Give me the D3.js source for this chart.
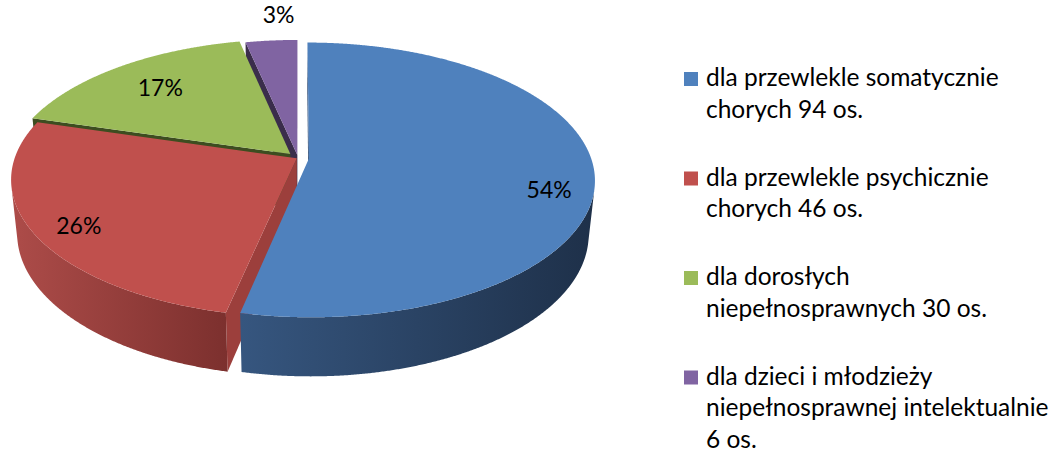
<!DOCTYPE html>
<html>
<head>
<meta charset="utf-8">
<script src="https://cdn.jsdelivr.net/npm/d3@7"></script>
<style>
  html, body { margin: 0; padding: 0; background: #fff; }
  svg { display: block; font-family: Lato, "Open Sans", sans-serif; }
</style>
</head>
<body>
<svg id="chart" width="1057" height="453"></svg>
<script>
// data
const values = [94, 46, 30, 6];
const pctLabels = ["54%", "26%", "17%", "3%"];
const legendLines = [
  ["dla przewlekle somatycznie", "chorych 94 os."],
  ["dla przewlekle psychicznie", "chorych 46 os."],
  ["dla dorosłych", "niepełnosprawnych 30 os."],
  ["dla dzieci i młodzieży", "niepełnosprawnej intelektualnie", "6 os."]
];

// styles
const topColors = ["#4f81bd", "#c0504d", "#9bbb59", "#8064a2"];
const wallLight = ["#36567f", "#ad4c49", "#7d9847", "#66508a"];
const wallDark  = ["#1e3049", "#7c302e", "#4f6228", "#3f3151"];
const cutColors = ["#2c4870", "#9c3f3c", "#3d4d20", "#3a2d4b"];
const explode = [0.039, 0.005, 0.04, 0.022];
// where each percent label sits: [radius fraction, height fraction, x nudge px]
const labelSpots = [[0.85, -0.35, 0], [0.84, -0.1, 0], [0.74, 0, 0], [1.27, 0, 13]];

const svg = d3.select("#chart");

// simple perspective camera for the 3d pie
const cx = 298, cy = 158, D = 5.573, fx = 1572, fy = 1492, H = 0.235;
const tilt = Math.PI / 6, ct = Math.cos(tilt), st = Math.sin(tilt);
const camZ = -D * ct;

function proj(x, z, y) {
  const depth = D + z * ct - y * st;
  return [cx + fx * x / depth, cy - fy * (z * st + y * ct) / depth];
}

const arcs = d3.pie().sort(null).value(d => d)(values);
const line = d3.line();
const step = Math.PI / 720;

const defs = svg.append("defs");
arcs.forEach((a, i) => {
  const g = defs.append("linearGradient")
    .attr("id", "wall" + i)
    .attr("x1", 0).attr("x2", 1).attr("y1", 0).attr("y2", 0);
  g.append("stop").attr("offset", 0).attr("stop-color", wallLight[i]);
  g.append("stop").attr("offset", 1).attr("stop-color", wallDark[i]);
});

const gCut = svg.append("g");
const gWall = svg.append("g");
const gTop = svg.append("g");
const gLab = svg.append("g");

const cuts = [];

arcs.forEach((a, i) => {
  const mid = (a.startAngle + a.endAngle) / 2;
  const ox = explode[i] * Math.sin(mid), oz = explode[i] * Math.cos(mid);
  const pt = (t, r, y) => proj(ox + r * Math.sin(t), oz + r * Math.cos(t), y);

  // radial cut faces, only when they face the camera
  const faces = [
    [a.startAngle, -Math.cos(a.startAngle), Math.sin(a.startAngle)],
    [a.endAngle, Math.cos(a.endAngle), -Math.sin(a.endAngle)]
  ];
  faces.forEach(([t, nx, nz]) => {
    if ((-ox) * nx + (camZ - oz) * nz > 0) {
      cuts.push({
        z: oz + 0.5 * Math.cos(t),
        d: line([pt(t, 0, 0), pt(t, 1, 0), pt(t, 1, -H), pt(t, 0, -H)]) + "Z",
        fill: cutColors[i]
      });
    }
  });

  // outer wall, the part turned toward the viewer
  const vis = t => (-ox) * Math.sin(t) + (camZ - oz) * Math.cos(t) - 1 > 0;
  let lo = null, hi = null;
  for (let t = a.startAngle; t <= a.endAngle + 1e-9; t += step) {
    if (vis(t)) { if (lo === null) lo = t; hi = t; }
  }
  if (lo !== null) {
    if (vis(a.endAngle)) hi = a.endAngle;
    const topPts = [], botPts = [];
    for (let t = lo; t < hi; t += step) { topPts.push(pt(t, 1, 0)); botPts.push(pt(t, 1, -H)); }
    topPts.push(pt(hi, 1, 0)); botPts.push(pt(hi, 1, -H));
    gWall.append("path")
      .attr("d", line(topPts.concat(botPts.reverse())) + "Z")
      .attr("fill", `url(#wall${i})`);
  }

  // top surface
  const tp = [pt(0, 0, 0)];
  for (let t = a.startAngle; t < a.endAngle; t += step) tp.push(pt(t, 1, 0));
  tp.push(pt(a.endAngle, 1, 0));
  gTop.append("path")
    .attr("d", line(tp) + "Z")
    .attr("fill", topColors[i]);

  // percent label
  const [lr, lh, ldx] = labelSpots[i];
  const lp = pt(mid, lr, lh * H);
  gLab.append("text")
    .attr("x", lp[0] + ldx).attr("y", lp[1])
    .attr("dy", "0.35em")
    .attr("text-anchor", "middle")
    .style("font-size", "23px")
    .style("fill", "#000")
    .text(pctLabels[i]);
});

// far cut faces first
cuts.sort((p, q) => q.z - p.z).forEach(c => {
  gCut.append("path").attr("d", c.d).attr("fill", c.fill);
});

// legend
const legend = svg.append("g").attr("transform", "translate(684,0)");
legendLines.forEach((lines, i) => {
  const base = 86 + i * 99.5;
  legend.append("rect")
    .attr("x", 0).attr("y", base - 14)
    .attr("width", 14).attr("height", 14)
    .attr("fill", topColors[i]);
  const txt = legend.append("text")
    .attr("x", 22).attr("y", base)
    .style("font-size", "24.5px")
    .style("fill", "#000");
  lines.forEach((l, j) => {
    txt.append("tspan").attr("x", 22).attr("y", base + j * 31.5).text(l);
  });
});
</script>
</body>
</html>
